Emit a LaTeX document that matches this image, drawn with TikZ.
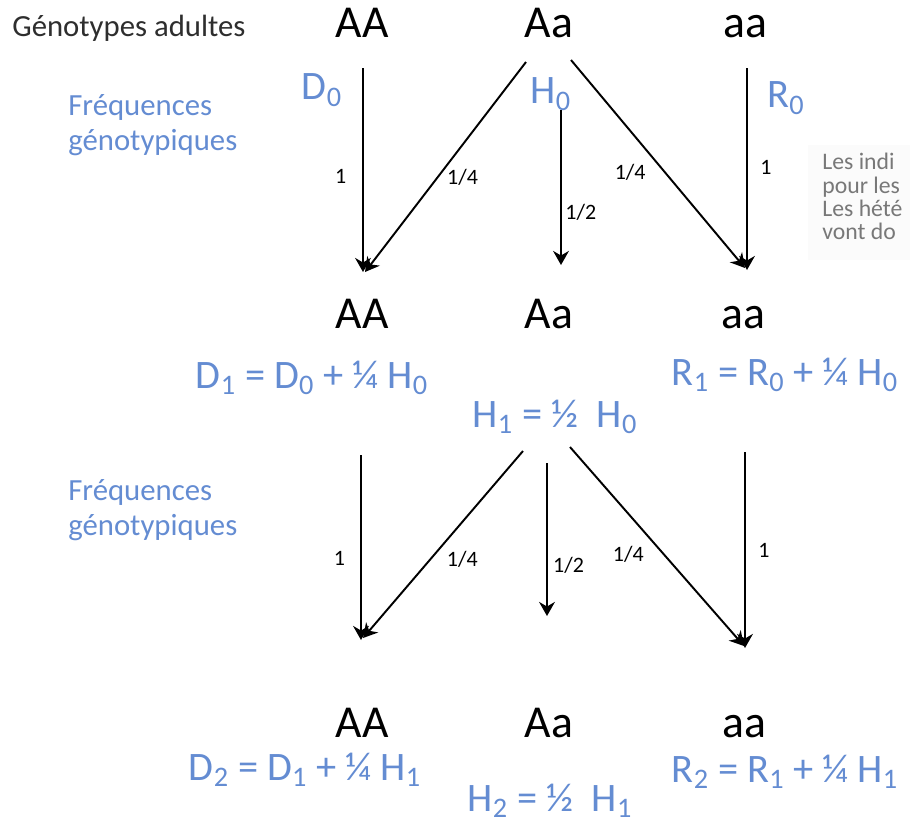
\documentclass[tikz,border=0pt]{standalone}
\usepackage{fontspec}
\setmainfont{Carlito}
\usetikzlibrary{arrows.meta}

\definecolor{freqblue}{RGB}{100,140,210}
\definecolor{notegray}{RGB}{120,120,120}
\newcommand{\ix}[1]{\textsubscript{#1}}

\begin{document}
\begin{tikzpicture}[x=0.02cm, y=-0.02cm,
    geno/.style={font=\fontsize{26}{30}\selectfont, inner sep=0pt, anchor=base},
    freq/.style={font=\fontsize{23}{27}\selectfont, text=freqblue, inner sep=0pt},
    eqn/.style={font=\fontsize{23}{27}\selectfont, text=freqblue, inner sep=0pt},
    rowlabel/.style={font=\fontsize{17.5}{20}\selectfont, text=freqblue, align=left, anchor=west, inner sep=0pt},
    prob/.style={font=\fontsize{12.5}{15}\selectfont, inner sep=0pt},
    note/.style={font=\fontsize{13.5}{13.2}\selectfont, text=notegray, align=left, anchor=north west, inner sep=0pt},
    arr/.style={-{Stealth[length=8pt, width=9pt]}, line width=1.1pt}
]
\useasboundingbox (0,0) rectangle (910,823);

% generation 0
\node[anchor=west, inner sep=0pt, font=\fontsize{17.5}{20}\selectfont, text=black!82] (adult) at (12,28) {Génotypes adultes};
\node[geno] (AA0) at (362,37) {AA};
\node[geno] (Aa0) at (549,37) {Aa};
\node[geno] (aa0) at (745,37) {aa};
\node[rowlabel] (fg0) at (68,125) {Fréquences\\génotypiques};
\node[freq] (D0) at (322,90) {D\ix{0}};
\node[freq] (H0) at (551,94) {H\ix{0}};
\node[freq] (R0) at (786,98) {R\ix{0}};

% generation 1
\node[geno] (AA1) at (362,328) {AA};
\node[geno] (Aa1) at (549,328) {Aa};
\node[geno] (aa1) at (743,328) {aa};
\node[eqn] (D1) at (312,378) {D\ix{1} = D\ix{0} + ¼ H\ix{0}};
\node[eqn] (H1) at (555,417) {H\ix{1} = ½~ H\ix{0}};
\node[eqn] (R1) at (785,375) {R\ix{1} = R\ix{0} + ¼ H\ix{0}};
\node[rowlabel] (fg1) at (68,510) {Fréquences\\génotypiques};

% generation 2
\node[geno] (AA2) at (362,737) {AA};
\node[geno] (Aa2) at (549,737) {Aa};
\node[geno] (aa2) at (744,737) {aa};
\node[eqn] (D2) at (305,770) {D\ix{2} = D\ix{1} + ¼ H\ix{1}};
\node[eqn] (H2) at (550,801) {H\ix{2} = ½~ H\ix{1}};
\node[eqn] (R2) at (785,772) {R\ix{2} = R\ix{1} + ¼ H\ix{1}};

% cut-off note on the right
\begin{scope}
\clip (805,140) rectangle (910,262);
\fill[black!1.5] (808,145) rectangle (910,260);
\node[note] (txt) at (822,153) {Les indi\\pour les\\Les hété\\vont do};
\end{scope}

% arrow ends
\coordinate (a0L) at (363,68);  \coordinate (b0L) at (363,272);
\coordinate (a0D) at (526,62);  \coordinate (b0D) at (365,272);
\coordinate (a0M) at (561,110); \coordinate (b0M) at (561,265);
\coordinate (a0E) at (571,60);  \coordinate (b0E) at (745,268);
\coordinate (a0R) at (747,68);  \coordinate (b0R) at (747,270);

\coordinate (a1L) at (361,455); \coordinate (b1L) at (361,640);
\coordinate (a1D) at (523,451); \coordinate (b1D) at (363,638);
\coordinate (a1M) at (547,463); \coordinate (b1M) at (547,616);
\coordinate (a1E) at (570,447); \coordinate (b1E) at (744,646);
\coordinate (a1R) at (745,452); \coordinate (b1R) at (745,648);

\draw[arr] (a0L) -- (b0L) node[prob, pos=0.53, left=9pt] (p0a) {1};
\draw[arr] (a0D) -- (b0D) node[prob, pos=0.55, right=5pt] (p0b) {1/4};
\draw[arr] (a0M) -- (b0M) node[prob, pos=0.66, right=2pt] (p0c) {1/2};
\draw[arr] (a0E) -- (b0E) node[prob, pos=0.54, left=10.5pt] (p0d) {1/4};
\draw[arr] (a0R) -- (b0R) node[prob, pos=0.49, right=7pt] (p0e) {1};

\draw[arr] (a1L) -- (b1L) node[prob, pos=0.56, left=8.5pt] (p1a) {1};
\draw[arr] (a1D) -- (b1D) node[prob, pos=0.58, right=9pt] (p1b) {1/4};
\draw[arr] (a1M) -- (b1M) node[prob, pos=0.67, right=3pt] (p1c) {1/2};
\draw[arr] (a1E) -- (b1E) node[prob, pos=0.54, left=11pt] (p1d) {1/4};
\draw[arr] (a1R) -- (b1R) node[prob, pos=0.5, right=7pt] (p1e) {1};
\end{tikzpicture}
\end{document}
